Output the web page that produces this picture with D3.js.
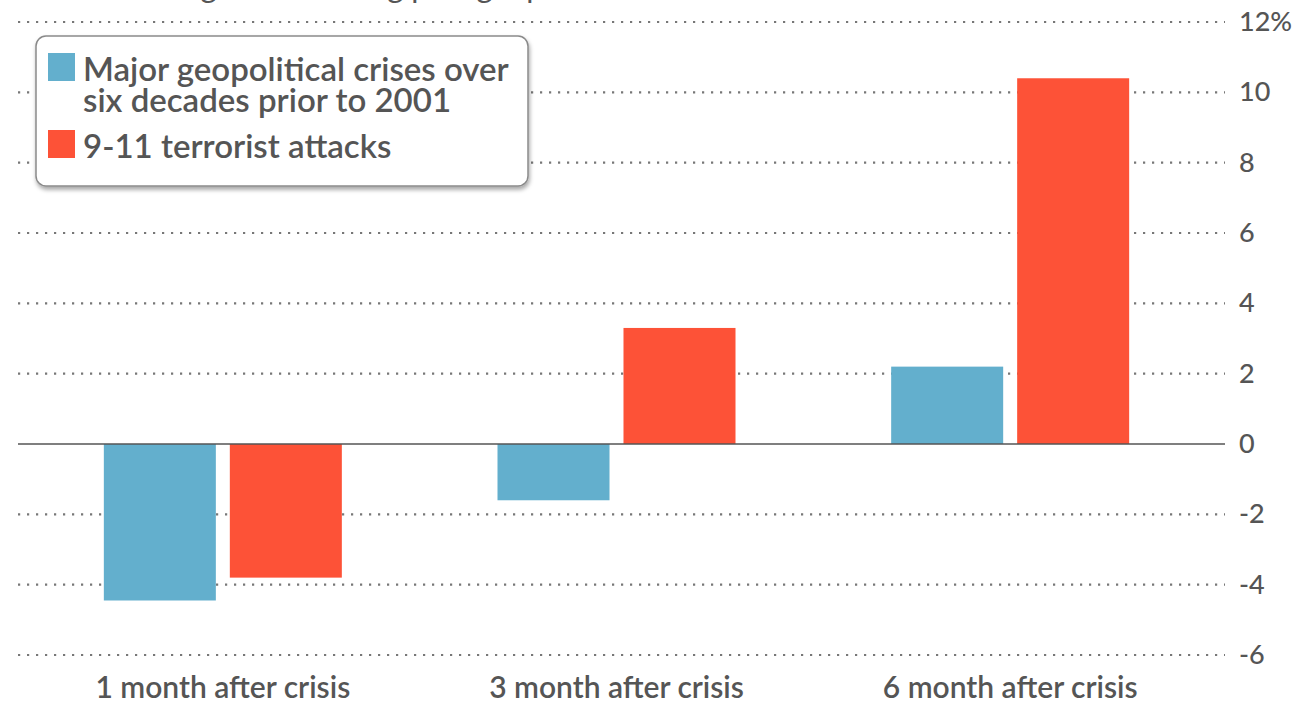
<!DOCTYPE html>
<html>
<head>
<meta charset="utf-8">
<script src="https://cdn.jsdelivr.net/npm/d3@7"></script>
<style>
  body { margin: 0; background: #fff; }
  svg { display: block; font-family: Lato, "Open Sans", sans-serif; }
</style>
</head>
<body>
<div id="main"></div>
<script>
// data
var categories = ["1 month after crisis", "3 month after crisis", "6 month after crisis"];
var seriesNames = ["Major geopolitical crises over six decades prior to 2001", "9-11 terrorist attacks"];
var pastCrises = [-4.45, -1.6, 2.2];
var nineEleven = [-3.8, 3.3, 10.4];
var yTicks = [-6, -4, -2, 0, 2, 4, 6, 8, 10, 12];
var titleText = "Stock market gains following past geopolitical crises";

var outerWidth = 1294, outerHeight = 701;
var colors = ["#63afcd", "#fd5237"];
var textColor = "#555";

var rows = categories.map((c, i) => ({ cat: c, values: [pastCrises[i], nineEleven[i]] }));

var svg = d3.select("#main").append("svg")
    .attr("width", outerWidth)
    .attr("height", outerHeight);

var defs = svg.append("defs");
var shadow = defs.append("filter").attr("id", "shadow")
    .attr("x", "-10%").attr("y", "-10%").attr("width", "120%").attr("height", "130%");
shadow.append("feDropShadow")
    .attr("dx", 1).attr("dy", 3).attr("stdDeviation", 2)
    .attr("flood-color", "#000").attr("flood-opacity", 0.35);

var yScale = d3.scaleLinear().domain([-6, 12]).range([655, 22]);
var xScale = d3.scaleBand().domain(categories).range([26, 1207]).padding(0);
var xInner = d3.scaleBand().domain([0, 1]).range([-119, 119]).paddingInner(0.111);

var gridLeft = 18, gridRight = 1225;

// cut-off title at the very top
svg.append("text")
    .attr("x", 15)
    .attr("y", -2)
    .attr("fill", textColor)
    .style("font-size", "31px")
    .text(titleText);

// dotted grid
svg.append("g").selectAll("line")
    .data(yTicks.filter(d => d != 0))
    .enter().append("line")
    .attr("x1", gridLeft)
    .attr("x2", gridRight)
    .attr("y1", d => yScale(d))
    .attr("y2", d => yScale(d))
    .attr("stroke", "#777")
    .attr("stroke-width", 2.2)
    .attr("stroke-dasharray", "2.2,6.8");

// y axis labels on the right
var yAxis = d3.axisRight(yScale)
    .tickValues(yTicks)
    .tickSize(0)
    .tickPadding(0)
    .tickFormat(d => d == 12 ? d + "%" : d);

var yAxisG = svg.append("g")
    .attr("transform", "translate(1239,0)")
    .call(yAxis);
yAxisG.select(".domain").remove();
yAxisG.selectAll("text")
    .attr("fill", textColor)
    .style("font-family", "Lato, sans-serif")
    .style("font-size", "27px")
    .style("font-weight", "500");

// bars
var groups = svg.append("g").selectAll("g")
    .data(rows)
    .enter().append("g")
    .attr("transform", d => "translate(" + (xScale(d.cat) + xScale.bandwidth() / 2) + ",0)");

groups.selectAll("rect")
    .data(d => d.values.map((v, i) => ({ v: v, i: i })))
    .enter().append("rect")
    .attr("x", d => xInner(d.i))
    .attr("width", xInner.bandwidth())
    .attr("y", d => yScale(Math.max(0, d.v)))
    .attr("height", d => Math.abs(yScale(d.v) - yScale(0)))
    .attr("fill", d => colors[d.i]);

// zero line
svg.append("line")
    .attr("x1", gridLeft)
    .attr("x2", gridRight)
    .attr("y1", yScale(0))
    .attr("y2", yScale(0))
    .attr("stroke", "#555")
    .attr("stroke-width", 1.5);

// x axis labels
var xAxis = d3.axisBottom(xScale).tickSize(0).tickPadding(0);
var xAxisG = svg.append("g")
    .attr("transform", "translate(0,687)")
    .call(xAxis);
xAxisG.select(".domain").remove();
xAxisG.selectAll("text")
    .attr("fill", textColor)
    .attr("dy", "0.35em")
    .style("font-family", "Lato, sans-serif")
    .style("font-size", "30px")
    .style("font-weight", "600");

// legend
var legend = svg.append("g").attr("transform", "translate(36,36)");
legend.append("rect")
    .attr("width", 492)
    .attr("height", 150)
    .attr("rx", 10)
    .attr("fill", "#fff")
    .attr("stroke", "#8a8a8a")
    .attr("stroke-width", 1.5)
    .attr("filter", "url(#shadow)");

var legendLines = [
    { i: 0, lines: ["Major geopolitical crises over", "six decades prior to 2001"], y: 17 },
    { i: 1, lines: ["9-11 terrorist attacks"], y: 94 }
];

legendLines.forEach(item => {
    legend.append("rect")
        .attr("x", 12)
        .attr("y", item.y)
        .attr("width", 27)
        .attr("height", 28)
        .attr("fill", colors[item.i]);
    var t = legend.append("text")
        .attr("fill", textColor)
        .style("font-size", "33px")
        .style("font-weight", "600");
    item.lines.forEach((l, j) => {
        t.append("tspan")
            .attr("x", 47)
            .attr("y", item.y + 28 + j * 31)
            .text(l);
    });
});
</script>
</body>
</html>
